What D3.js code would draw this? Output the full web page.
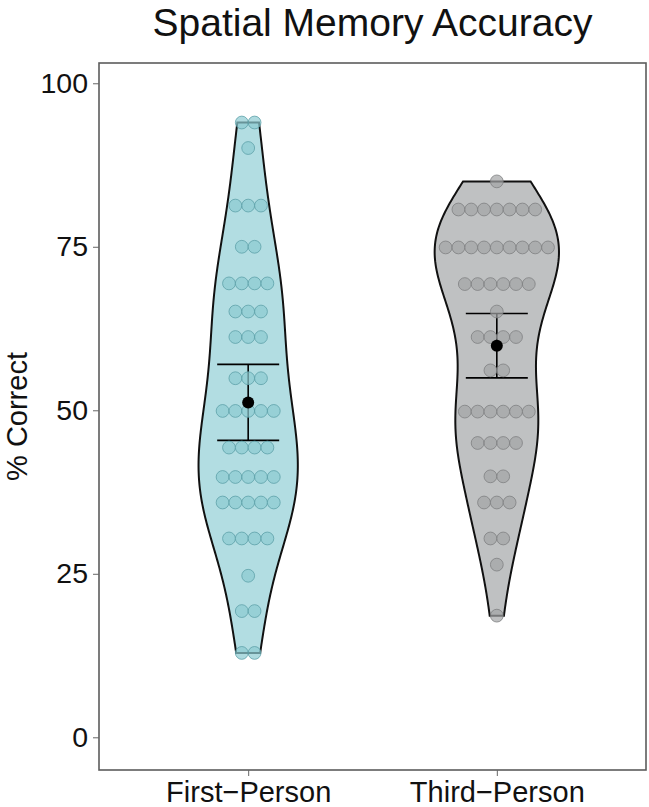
<!DOCTYPE html>
<html>
<head>
<meta charset="utf-8">
<script src="https://cdn.jsdelivr.net/npm/d3@7"></script>
<style>
  body { margin: 0; background: #fff; }
  text { font-family: "Liberation Sans", Arial, Helvetica, sans-serif; fill: #111; }
</style>
</head>
<body>
<script>

// categories on the x axis
var groups = ["First\u2212Person", "Third\u2212Person"];

// dot rows: value of each row and how many dots it has
var firstLevels = [94.0, 90.1, 81.3, 75.0, 69.4, 65.1, 61.2, 54.9, 49.9, 44.3, 39.8, 35.9, 30.4, 24.7, 19.3, 12.9];
var firstCounts = [2, 1, 3, 2, 4, 3, 3, 3, 5, 4, 5, 5, 4, 1, 2, 2];

var thirdLevels = [85.0, 80.7, 74.9, 69.3, 65.1, 61.2, 56.1, 49.8, 45.0, 39.9, 35.9, 30.4, 26.4, 18.6];
var thirdCounts = [1, 7, 9, 6, 1, 4, 2, 6, 4, 2, 3, 2, 1, 1];

var yTicks = [0, 25, 50, 75, 100];

var fills = ["#b2dde2", "#bfc1c2"];
var dotFills = ["#8ccad1", "#a2a4a5"];
var dotStrokes = ["#5a9ea6", "#7c7e7f"];

// expand rows into individual observations
function expand(levels, counts) {
  var out = [];
  levels.forEach(function(v, i) {
    for (var k = 0; k < counts[i]; k++) out.push(v);
  });
  return out;
}

var series = [
  {name: groups[0], levels: firstLevels, counts: firstCounts, values: expand(firstLevels, firstCounts)},
  {name: groups[1], levels: thirdLevels, counts: thirdCounts, values: expand(thirdLevels, thirdCounts)}
];

// set the dimensions of the panel
var width = 649, height = 807;
var panel = {left: 99, right: 646, top: 63, bottom: 770};

var svg = d3.select("body").append("svg")
    .attr("width", width)
    .attr("height", height);

var x = d3.scalePoint()
    .domain(groups)
    .range([panel.left, panel.right])
    .padding(0.6);

var y = d3.scaleLinear()
    .domain([-5, 103.1])
    .range([panel.bottom, panel.top]);

// silverman rule of thumb (like R's bw.nrd0)
function bwNrd0(v) {
  var s = d3.deviation(v);
  var sorted = v.slice().sort(d3.ascending);
  var iqr = d3.quantileSorted(sorted, 0.75) - d3.quantileSorted(sorted, 0.25);
  var lo = Math.min(s, iqr / 1.34);
  return 0.9 * lo * Math.pow(v.length, -0.2);
}

function kde(v, bw, grid) {
  return grid.map(function(t) {
    var sum = 0;
    v.forEach(function(xi) {
      var z = (t - xi) / bw;
      sum += Math.exp(-0.5 * z * z);
    });
    return [t, sum / (v.length * bw * Math.sqrt(2 * Math.PI))];
  });
}

series.forEach(function(s) {
  var lo = d3.min(s.values), hi = d3.max(s.values);
  var grid = d3.range(0, 201).map(function(i) { return lo + (hi - lo) * i / 200; });
  s.density = kde(s.values, bwNrd0(s.values), grid);
  s.mean = d3.mean(s.values);
  var se = d3.deviation(s.values) / Math.sqrt(s.values.length);
  s.ciLo = s.mean - 1.96 * se;
  s.ciHi = s.mean + 1.96 * se;
});

// scale = "area": one max density for both violins
var maxDens = d3.max(series, function(s) { return d3.max(s.density, function(d) { return d[1]; }); });
var w = d3.scaleLinear().domain([0, maxDens]).range([0, x.step() * 0.25]);

// panel border
svg.append("rect")
    .attr("x", panel.left)
    .attr("y", panel.top)
    .attr("width", panel.right - panel.left)
    .attr("height", panel.bottom - panel.top)
    .attr("fill", "none")
    .attr("stroke", "#5c5c5c")
    .attr("stroke-width", 1.6);

// y axis
var yAxis = svg.append("g")
    .attr("transform", "translate(" + panel.left + ",0)")
    .call(d3.axisLeft(y).tickValues(yTicks).tickSize(6).tickPadding(5));
yAxis.select(".domain").remove();
yAxis.selectAll("line").attr("stroke", "#666");
yAxis.selectAll("text")
    .style("font-size", "28.5px")
    .attr("fill", "#111");

// x axis
var xAxis = svg.append("g")
    .attr("transform", "translate(0," + panel.bottom + ")")
    .call(d3.axisBottom(x).tickSize(6).tickPadding(5));
xAxis.select(".domain").remove();
xAxis.selectAll("line").attr("stroke", "#666");
xAxis.selectAll("text")
    .style("font-size", "29px")
    .attr("dy", "0.71em")
    .attr("fill", "#111");

// violins
var area = d3.area()
    .x0(function(d) { return -w(d[1]); })
    .x1(function(d) { return w(d[1]); })
    .y(function(d) { return y(d[0]); })
    .curve(d3.curveLinear);

var g = svg.selectAll(".violin")
    .data(series)
  .enter().append("g")
    .attr("class", "violin")
    .attr("transform", function(d) { return "translate(" + x(d.name) + ",0)"; });

g.append("path")
    .attr("d", function(d) { return area(d.density); })
    .attr("fill", function(d, i) { return fills[i]; })
    .attr("stroke", "#111")
    .attr("stroke-width", 2);

// error bars (95% CI)
var cap = 31;
g.append("line")
    .attr("x1", 0).attr("x2", 0)
    .attr("y1", function(d) { return y(d.ciLo); })
    .attr("y2", function(d) { return y(d.ciHi); })
    .attr("stroke", "#000").attr("stroke-width", 1.6);
g.append("line")
    .attr("x1", -cap).attr("x2", cap)
    .attr("y1", function(d) { return y(d.ciHi); })
    .attr("y2", function(d) { return y(d.ciHi); })
    .attr("stroke", "#000").attr("stroke-width", 1.6);
g.append("line")
    .attr("x1", -cap).attr("x2", cap)
    .attr("y1", function(d) { return y(d.ciLo); })
    .attr("y2", function(d) { return y(d.ciLo); })
    .attr("stroke", "#000").attr("stroke-width", 1.6);

// dots, centred stacks
var dotR = 6.4;
g.each(function(s, gi) {
  var dots = [];
  s.levels.forEach(function(v, i) {
    var n = s.counts[i];
    for (var k = 0; k < n; k++) {
      dots.push({v: v, off: (k - (n - 1) / 2) * dotR * 2});
    }
  });
  d3.select(this).selectAll(".dot")
      .data(dots)
    .enter().append("circle")
      .attr("class", "dot")
      .attr("cx", function(d) { return d.off; })
      .attr("cy", function(d) { return y(d.v); })
      .attr("r", dotR)
      .attr("fill", dotFills[gi])
      .attr("fill-opacity", 0.7)
      .attr("stroke", dotStrokes[gi])
      .attr("stroke-opacity", 0.75)
      .attr("stroke-width", 1);
});

// mean point
g.append("circle")
    .attr("cx", 0)
    .attr("cy", function(d) { return y(d.mean); })
    .attr("r", 6)
    .attr("fill", "#000");

// titles
svg.append("text")
    .attr("x", (panel.left + panel.right) / 2)
    .attr("y", 36)
    .attr("text-anchor", "middle")
    .style("font-size", "39px")
    .text("Spatial Memory Accuracy");

svg.append("text")
    .attr("transform", "translate(27," + (panel.top + panel.bottom) / 2 + ") rotate(-90)")
    .attr("text-anchor", "middle")
    .style("font-size", "29px")
    .text("% Correct");

</script>
</body>
</html>
